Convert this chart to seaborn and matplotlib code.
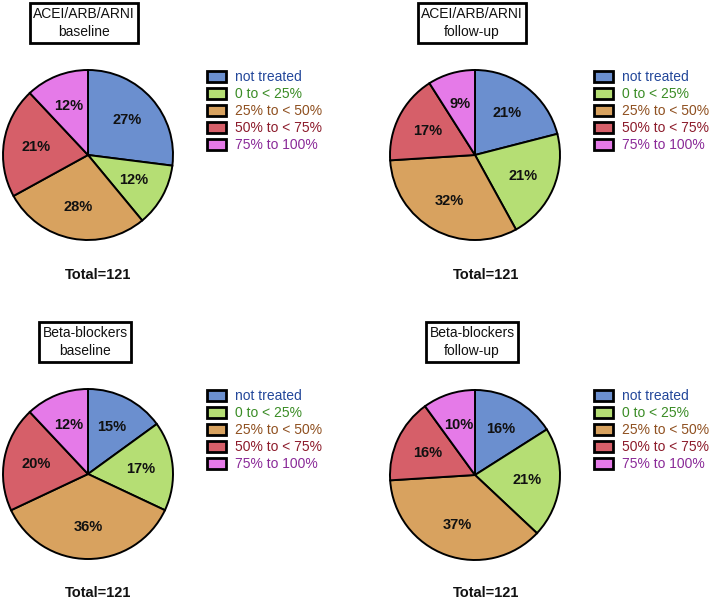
import matplotlib
matplotlib.use("Agg")
import matplotlib.pyplot as plt
import seaborn as sns

sns.set_theme(style="white")
plt.rcParams['font.family'] = ['Liberation Sans', 'DejaVu Sans']

categories = ["not treated", "0 to < 25%", "25% to < 50%", "50% to < 75%", "75% to 100%"]
acei_baseline = [27, 12, 28, 21, 12]
acei_followup = [21, 21, 32, 17, 9]
bb_baseline = [15, 17, 36, 20, 12]
bb_followup = [16, 21, 37, 16, 10]
titles = ["ACEI/ARB/ARNI\nbaseline", "ACEI/ARB/ARNI\nfollow-up",
          "Beta-blockers\nbaseline", "Beta-blockers\nfollow-up"]
total_label = "Total=121"

wedge_colors = sns.color_palette(["#6b8fcf", "#b5de74", "#d8a25f", "#d65f69", "#e57ae8"])
text_colors = ["#23479a", "#3a8c25", "#8f5020", "#8c1b2b", "#8a2a98"]

W, H = 709, 600
fig = plt.figure(figsize=(W / 100, H / 100), dpi=100)
fig.patch.set_facecolor("white")

panels = [
    dict(data=acei_baseline, cx=88, cy=155, tx=84, ty=23, totx=98, toty=275, lx=207, ly=70),
    dict(data=acei_followup, cx=475, cy=155, tx=472, ty=23, totx=486, toty=275, lx=594, ly=70),
    dict(data=bb_baseline, cx=88, cy=474, tx=85, ty=342, totx=98, toty=593, lx=207, ly=389),
    dict(data=bb_followup, cx=475, cy=475, tx=472, ty=342, totx=486, toty=593, lx=594, ly=389),
]
R = 85

for p, title in zip(panels, titles):
    ax = fig.add_axes([(p["cx"] - R) / W, 1 - (p["cy"] + R) / H, 2 * R / W, 2 * R / H])
    wedges, texts, autotexts = ax.pie(
        p["data"], colors=wedge_colors, startangle=90, counterclock=False,
        autopct=lambda v: f"{v:.0f}%", pctdistance=0.62,
        wedgeprops=dict(edgecolor="black", linewidth=1.4),
        textprops=dict(fontsize=10.5, fontweight="bold", color="#111111"))
    for w in wedges:
        w.set_clip_on(False)
    ax.set_xlim(-1, 1)
    ax.set_ylim(-1, 1)
    ax.set_axis_off()

    fig.text(p["tx"] / W, 1 - p["ty"] / H, title, ha="center", va="center",
             fontsize=10, color="#111111", linespacing=1.4,
             bbox=dict(boxstyle="square,pad=0.25", facecolor="white",
                       edgecolor="black", linewidth=2.0))
    fig.text(p["totx"] / W, 1 - p["toty"] / H, total_label, ha="center", va="center",
             fontsize=10.5, fontweight="bold", color="#111111")

    leg = fig.legend(wedges, categories, loc="upper left",
                     bbox_to_anchor=(p["lx"] / W, 1 - p["ly"] / H),
                     frameon=False, fontsize=10, labelspacing=0.22,
                     handlelength=1.4, handleheight=0.85, handletextpad=0.65,
                     borderpad=0, borderaxespad=0)
    for t, c in zip(leg.get_texts(), text_colors):
        t.set_color(c)
    for h in leg.legend_handles:
        h.set_linewidth(2.0)

fig.savefig("out.png", dpi=100, facecolor="white")
